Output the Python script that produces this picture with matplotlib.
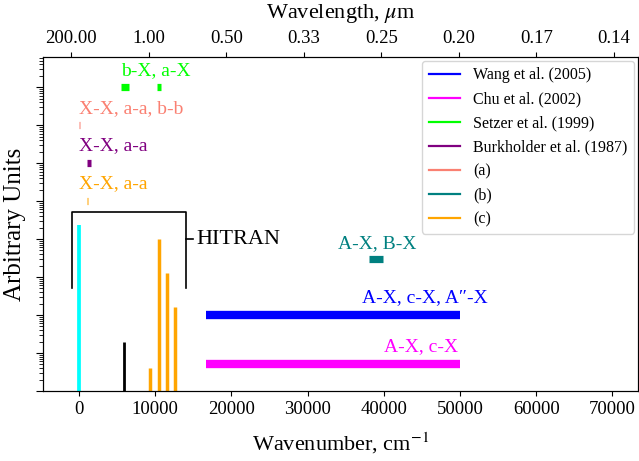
import numpy as np
import matplotlib
matplotlib.use("Agg")
import matplotlib.pyplot as plt
from matplotlib.lines import Line2D
from matplotlib import ticker

plt.rcParams.update({
    "font.family": ["Liberation Serif", "DejaVu Serif"],
    "mathtext.fontset": "stix",
    "font.size": 13.5,
})

# band systems shown as thick horizontal bars (cm-1 ranges, arbitrary level)
bar_labels = ["Wang et al. (2005)", "Chu et al. (2002)", "Setzer et al. (1999)",
              "Burkholder et al. (1987)", "(a)", "(b)", "(c)"]
bar_start = [[16630], [16630], [5470, 10200], [1010], [0], [38060], [1010]]
bar_end = [[50000], [50000], [6520, 10800], [1540], [130], [39900], [1180]]
bar_level = [1e2, 5.0, 1e8, 1e6, 1e7, 3.0e3, 1e5]
band_text = ["A-X, c-X, A″-X", "A-X, c-X", "b-X, a-X", "X-X, a-a",
             "X-X, a-a, b-b", "A-X, B-X", "X-X, a-a"]
band_text_x = [45400, 44870, 5500, 0, 0, 39100, 0]
band_text_y = [2.8e2, 14.4, 2.8e8, 2.8e6, 2.8e7, 7.7e3, 2.8e5]

# HITRAN line positions (cm-1) and peak heights
hitran_x = [0, 5900]
hitran_y = [2.3e4, 19.5]
c_lines_x = [9320, 10500, 11550, 12600]
c_lines_y = [4.0, 1.0e4, 1270, 162]

# top axis: wavelength labels at the wavenumber ticks
wn_ticks = [0, 10000, 20000, 30000, 40000, 50000, 60000, 70000]
wl_labels = ["200.00", "1.00", "0.50", "0.33", "0.25", "0.20", "0.17", "0.14"]

colors = ["blue", "magenta", "lime", "purple", "salmon", "teal", "orange"]
text_ha = ["center", "center", "left", "left", "left", "center", "left"]
bar_lw = [6, 6, 5.2, 5.2, 5.2, 5.2, 5.2]

fig = plt.figure(figsize=(6.39, 4.61), dpi=100)
ax = fig.add_axes([43 / 639, 70 / 461, 595 / 639, 334 / 461])

ax.vlines(hitran_x[0], 1e-2, hitran_y[0], color="cyan", lw=2.7)
ax.vlines(hitran_x[1], 1e-2, hitran_y[1], color="black", lw=2)
ax.vlines(c_lines_x, 1e-2, c_lines_y, color="orange", lw=2.5)

for i in range(len(bar_labels)):
    ax.hlines([bar_level[i]] * len(bar_start[i]), bar_start[i], bar_end[i],
              color=colors[i], lw=bar_lw[i], capstyle="butt")
    ax.text(band_text_x[i], band_text_y[i], band_text[i], color=colors[i],
            ha=text_ha[i], va="center", fontsize=14)

# HITRAN bracket
ax.plot([-920, -920, 14040, 14040], [510, 5.1e4, 5.1e4, 510], color="black", lw=1.2)
ax.plot([14040, 14960], [1e4, 1e4], color="black", lw=1.2)
ax.text(15400, 1e4, "HITRAN", ha="left", va="center", fontsize=16)

ax.set_yscale("log")
ax.set_ylim(1, 6.2e8)
ax.set_xlim(-4724, 73360)
ax.yaxis.set_major_locator(ticker.LogLocator(base=10, numticks=20))
ax.yaxis.set_minor_locator(ticker.LogLocator(base=10, subs=np.arange(2, 10), numticks=20))
ax.yaxis.set_major_formatter(ticker.NullFormatter())
ax.yaxis.set_minor_formatter(ticker.NullFormatter())
ax.tick_params(axis="y", which="major", length=5)
ax.tick_params(axis="y", which="minor", length=3)
ax.set_xticks(wn_ticks)
ax.set_xlabel("Wavenumber, cm$^{-1}$", fontsize=16, labelpad=9)
ax.set_ylabel("Arbitrary Units", fontsize=18, labelpad=4)

handles = [Line2D([], [], color=c, lw=1.6) for c in colors]
ax.legend(handles, bar_labels, loc="upper right", fontsize=11.5,
          borderaxespad=0.25, edgecolor="#cccccc")

ax2 = ax.twiny()
ax2.set_xlim(-3626, 73110)
ax2.set_xticks(wn_ticks)
ax2.set_xticklabels(wl_labels)
ax2.set_xlabel("Wavelength, $\\mu$m", fontsize=16, labelpad=9)

fig.savefig("out.png", dpi=100)
